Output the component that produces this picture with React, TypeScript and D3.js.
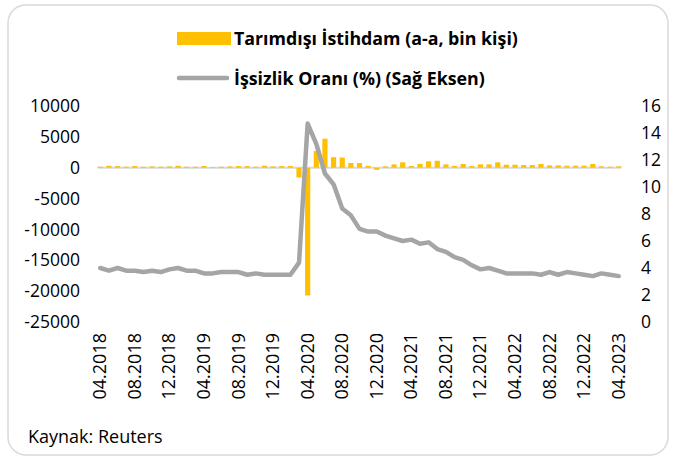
import React, { useRef, useEffect } from 'react'
import * as d3 from 'd3'

// monthly periods 04.2018 - 04.2023
const months: string[] = []
for (let y = 2018; y <= 2023; y++) {
  for (let m = 1; m <= 12; m++) {
    if (y === 2018 && m < 4) continue
    if (y === 2023 && m > 4) continue
    months.push((m < 10 ? '0' + m : '' + m) + '.' + y)
  }
}

// Tarımdışı İstihdam (bin kişi)
const employment = [
  160, 320, 270, 160, 270, 160, 216, 160, 216, 320, 160, 160,
  270, 100, 160, 216, 270, 270, 160, 320, 216, 270, 270,
  -1600, -20700, 2700, 4700, 1700, 1650, 760, 760, 300, -350,
  230, 540, 870, 270, 600, 1030, 1130, 540, 300, 600, 280, 540,
  540, 870, 490, 490, 430, 430, 600, 380, 380, 330, 330, 330,
  600, 220, 160, 220,
]

// İşsizlik Oranı (%)
const unemployment = [
  4.0, 3.8, 4.0, 3.8, 3.8, 3.7, 3.8, 3.7, 3.9, 4.0, 3.8, 3.8,
  3.6, 3.6, 3.7, 3.7, 3.7, 3.5, 3.6, 3.5, 3.5, 3.5, 3.5,
  4.4, 14.7, 13.2, 11.0, 10.2, 8.4, 7.9, 6.9, 6.7, 6.7,
  6.4, 6.2, 6.0, 6.1, 5.8, 5.9, 5.4, 5.2, 4.8, 4.6, 4.2, 3.9,
  4.0, 3.8, 3.6, 3.6, 3.6, 3.6, 3.5, 3.7, 3.5, 3.7, 3.6, 3.5,
  3.4, 3.6, 3.5, 3.4,
]

const leftTicks = [10000, 5000, 0, -5000, -10000, -15000, -20000, -25000]
const rightTicks = [16, 14, 12, 10, 8, 6, 4, 2, 0]
const xLabels = months.filter((d, i) => i % 4 === 0)

const w = 673
const h = 461
const font = "'Open Sans', sans-serif"

export default function App() {
  const ref = useRef<SVGSVGElement>(null)

  useEffect(() => {
    const svg = d3.select(ref.current)

    // outer frame
    svg.append('rect')
      .attr('x', 8).attr('y', 5)
      .attr('width', 660).attr('height', 450)
      .attr('rx', 18)
      .attr('fill', 'white')
      .attr('stroke', '#d9d9d9')
      .attr('stroke-width', 1.5)

    const x = d3.scaleBand<string>()
      .domain(months)
      .range([97.7, 621.3])
      .paddingInner(0.4)

    const yLeft = d3.scaleLinear().domain([-25000, 10000]).range([322, 106])
    const yRight = d3.scaleLinear().domain([0, 16]).range([322, 106])

    const cx = (d: string) => (x(d) as number) + x.bandwidth() / 2

    // left axis (plain hyphen for negatives)
    const gL = svg.append('g')
      .attr('transform', 'translate(80,0)')
      .call(d3.axisLeft(yLeft).tickValues(leftTicks).tickSize(0).tickPadding(0).tickFormat(d => String(d)))
    gL.select('.domain').remove()
    gL.selectAll('text')
      .attr('font-family', font).attr('font-size', 17.5).attr('fill', '#000')

    // right axis
    const gR = svg.append('g')
      .attr('transform', 'translate(641,0)')
      .call(d3.axisRight(yRight).tickValues(rightTicks).tickSize(0).tickPadding(0))
    gR.select('.domain').remove()
    gR.selectAll('text')
      .attr('font-family', font).attr('font-size', 17.5).attr('fill', '#000')

    // zero line
    svg.append('line')
      .attr('x1', 97.7).attr('x2', 621.3)
      .attr('y1', yLeft(0)).attr('y2', yLeft(0))
      .attr('stroke', '#d9d9d9')
      .attr('stroke-width', 2)

    // bars
    svg.append('g')
      .selectAll('rect')
      .data(employment)
      .join('rect')
      .attr('x', (d, i) => x(months[i]) as number)
      .attr('width', x.bandwidth())
      .attr('y', d => yLeft(Math.max(0, d)))
      .attr('height', d => Math.abs(yLeft(d) - yLeft(0)))
      .attr('fill', '#FFC000')

    // unemployment line
    const line = d3.line<number>()
      .x((d, i) => cx(months[i]))
      .y(d => yRight(d))

    svg.append('path')
      .datum(unemployment)
      .attr('d', line)
      .attr('fill', 'none')
      .attr('stroke', '#A5A5A5')
      .attr('stroke-width', 4.5)
      .attr('stroke-linejoin', 'round')
      .attr('stroke-linecap', 'round')

    // x labels (rotated)
    svg.append('g')
      .selectAll('text')
      .data(xLabels)
      .join('text')
      .attr('transform', d => `translate(${cx(d) + 6},333) rotate(-90)`)
      .attr('text-anchor', 'end')
      .attr('font-family', font)
      .attr('font-size', 18)
      .text(d => d)

    // legend
    const legend = svg.append('g').attr('font-family', font).attr('font-weight', 'bold').attr('font-size', 17.8)
    legend.append('rect')
      .attr('x', 177).attr('y', 32).attr('width', 54).attr('height', 13)
      .attr('fill', '#FFC000')
    legend.append('text')
      .attr('x', 234).attr('y', 45)
      .text('Tarımdışı İstihdam (a-a, bin kişi)')
    legend.append('line')
      .attr('x1', 179).attr('x2', 227).attr('y1', 78).attr('y2', 78)
      .attr('stroke', '#A5A5A5').attr('stroke-width', 4.5).attr('stroke-linecap', 'round')
    legend.append('text')
      .attr('x', 234).attr('y', 85)
      .text('İşsizlik Oranı (%) (Sağ Eksen)')

    // source
    svg.append('text')
      .attr('x', 28).attr('y', 443)
      .attr('font-family', font)
      .attr('font-size', 18)
      .text('Kaynak: Reuters')

    return () => {
      svg.selectAll('*').remove()
    }
  }, [])

  return (
    <svg
      ref={ref}
      width={w}
      height={h}
      style={{ position: 'absolute', left: 0, top: 0, background: 'white' }}
    />
  )
}
